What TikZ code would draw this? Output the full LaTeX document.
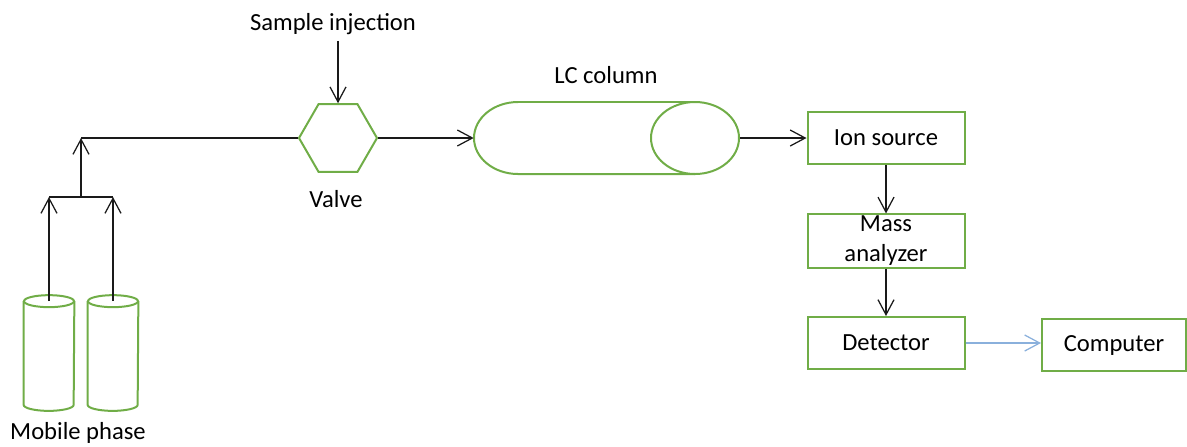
\documentclass[tikz,border=0pt]{standalone}
\usepackage{fontspec}
\setmainfont{Carlito}
\usetikzlibrary{arrows.meta,calc,shapes.geometric}
\definecolor{lcgreen}{HTML}{70AD47}
\definecolor{lcblue}{HTML}{8AB0DC}
\definecolor{lcline}{HTML}{1A1A1A}

\begin{document}
\begin{tikzpicture}[
  x=0.2mm, y=-0.2mm,
  font=\fontsize{14}{17}\selectfont,
  box/.style={draw=lcgreen, line width=0.4mm, align=center,
              minimum width=31.4mm, minimum height=10.4mm, inner sep=1pt},
  valve/.style={regular polygon, regular polygon sides=6, draw=lcgreen,
              line width=0.4mm, minimum size=15.6mm, inner sep=0pt},
  bottle/.style={minimum width=10mm, minimum height=23mm, inner sep=0pt},
  pipe/.style={draw=lcgreen, line width=0.4mm},
  flow/.style={-{Straight Barb[length=3mm,width=3.2mm]}, line width=0.25mm, draw=lcline},
  link/.style={line width=0.25mm, draw=lcline},
  signal/.style={-{Straight Barb[length=3mm,width=3.2mm]}, line width=0.25mm, draw=lcblue}
]
  \useasboundingbox (0,0) rectangle (1187,446);

  % solvent reservoirs
  \node[bottle] (bottleA) at (49,353) {};
  \node[bottle] (bottleB) at (113,353) {};
  \foreach \b in {bottleA,bottleB} {
    \draw[pipe] ($(\b.north)+(0,6)$) ellipse[x radius=5mm, y radius=1.2mm];
    \draw[pipe] ($(\b.north west)+(0,6)$) -- ($(\b.south west)+(0,-6)$)
      arc[start angle=180, end angle=360, x radius=5mm, y radius=1.2mm]
      -- ($(\b.north east)+(0,6)$);
  }
  \node[anchor=base] (phase) at (78,439) {Mobile phase};

  % injection valve and column
  \node[valve] (valve) at (338,138) {};
  \node (valvelabel) at (336,199) {Valve};
  \node (inject) at (333,24) {Sample injection};
  \node[minimum width=53.2mm, minimum height=14.4mm, inner sep=0pt] (column) at (607,138) {};
  \node (columnlabel) at (606,75) {LC column};
  \draw[pipe] (518,102) arc[start angle=90, end angle=270, x radius=8.8mm, y radius=7.2mm] -- (695,174);
  \draw[pipe] (518,102) -- (695,102);
  \draw[pipe] (695,138) ellipse[x radius=8.8mm, y radius=7.2mm];

  % mass spectrometer
  \node[box] (ion) at (886,138) {Ion source};
  \node[box] (mass) at (886,241) {Mass\\analyzer};
  \node[box] (detector) at (886,343) {Detector};
  \node[box, minimum width=28.8mm] (computer) at (1114,345) {Computer};

  % tubing
  \coordinate (outA) at ($(bottleA.north)+(0,6)$);
  \coordinate (outB) at ($(bottleB.north)+(0,6)$);
  \coordinate (joinA) at (49,197);
  \coordinate (joinB) at (113,197);
  \coordinate (joinAB) at ($(joinA)!0.5!(joinB)$);
  \coordinate (feed) at (joinAB |- valve.west);
  \draw[flow] (outA) -- (joinA);
  \draw[flow] (outB) -- (joinB);
  \draw[link] (joinA) -- (joinB);
  \draw[flow] (joinAB) -- (feed);
  \draw[link] (feed) -- (valve.west);
  \draw[flow] (inject.south -| valve.north) -- (valve.north);
  \draw[flow] (valve.east) -- (column.west);
  \draw[flow] (column.east) -- (ion.west);
  \draw[flow] (ion) -- (mass);
  \draw[flow] (mass) -- (detector);
  \draw[signal] (detector.east) -- (detector.east -| computer.west);
\end{tikzpicture}
\end{document}
